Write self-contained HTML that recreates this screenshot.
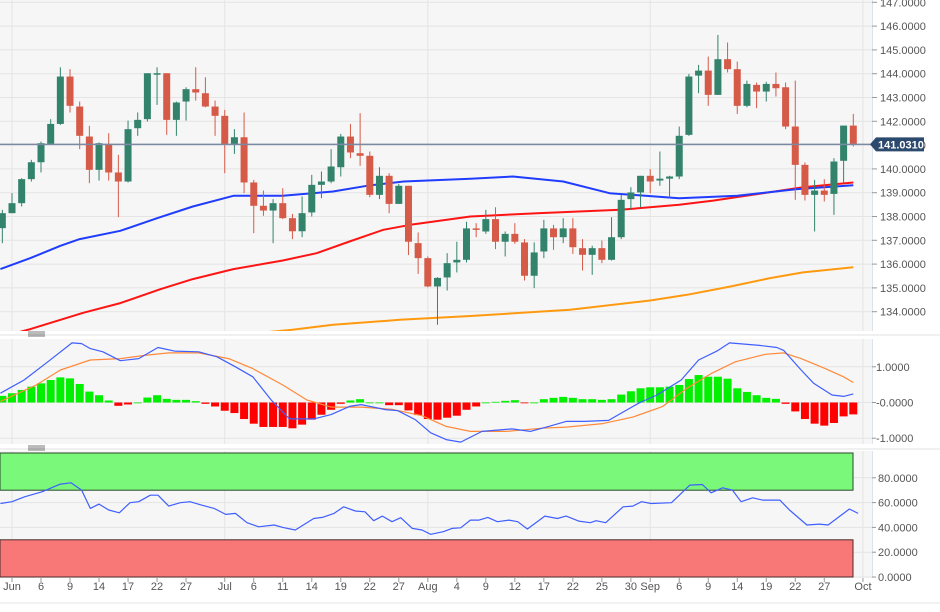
<!DOCTYPE html>
<html><head><meta charset="utf-8">
<style>
html,body{margin:0;padding:0;background:#fff;width:940px;height:612px;overflow:hidden;font-family:"Liberation Sans",sans-serif;}
svg text{font-family:"Liberation Sans",sans-serif;}
</style></head>
<body>
<svg id="chart" width="940" height="612" viewBox="0 0 940 612" xmlns="http://www.w3.org/2000/svg"></svg>
<script>
// ---- data ----
const candleOpen=[137.51,138.14,138.56,139.57,140.28,141.05,141.89,143.88,142.62,141.36,139.96,141.05,139.85,139.47,141.71,142.09,143.99,144.02,142.06,142.83,143.35,143.18,142.62,142.23,141.05,141.33,139.43,138.45,138.25,138.56,137.93,137.38,138.17,139.33,139.47,140.07,141.36,140.66,140.55,138.91,139.71,138.53,139.29,136.88,136.25,135.06,135.44,136.07,136.18,137.50,137.37,137.89,136.94,137.27,136.91,135.51,136.53,137.50,137.13,137.50,136.67,136.39,136.67,136.18,137.13,138.73,139.01,139.71,139.51,139.59,139.68,141.43,143.92,144.13,143.11,144.61,144.19,142.65,143.53,143.25,143.57,143.43,141.78,140.17,138.91,139.09,138.95,140.34,141.82];
const candleHigh=[138.28,138.98,139.61,140.38,141.15,142.09,144.27,144.19,142.83,141.81,141.11,141.50,140.59,142.03,142.37,144.02,144.27,144.02,142.83,143.43,144.27,143.85,142.87,142.48,141.67,142.37,139.54,139.09,138.73,139.19,138.11,138.84,139.75,139.89,140.83,141.47,141.89,142.34,140.73,140.07,139.82,139.37,139.29,137.33,136.32,135.45,136.46,136.94,137.78,137.72,138.28,138.39,137.37,137.72,137.05,136.91,137.86,137.65,137.93,137.93,137.05,136.77,136.99,137.97,138.91,139.23,139.71,139.99,140.73,139.71,141.78,143.99,144.37,144.72,145.63,145.31,144.51,143.71,143.63,143.66,144.05,143.63,143.71,140.27,139.54,139.57,140.45,141.82,142.31];
const candleLow=[136.88,138.14,138.42,139.47,139.85,141.01,141.85,142.37,140.83,139.40,139.51,139.51,137.97,139.43,141.39,141.99,142.69,141.43,141.39,142.03,142.87,142.59,141.39,139.82,140.63,138.98,137.30,138.03,136.88,137.89,137.05,137.13,138.00,138.77,139.40,139.68,140.45,140.13,138.81,138.73,138.14,138.53,136.38,135.59,135.03,133.45,134.89,135.65,136.07,137.13,137.27,136.63,136.32,136.85,135.31,134.99,136.25,136.60,136.88,136.43,135.73,135.55,136.04,136.15,137.05,138.28,138.39,138.98,139.29,138.77,139.57,141.39,143.18,142.65,143.11,144.05,142.31,142.59,142.55,142.83,143.04,141.67,138.70,138.67,137.37,138.63,138.07,139.40,140.94];
const candleClose=[138.14,138.56,139.57,140.28,141.08,141.89,143.88,142.65,141.39,139.96,141.08,139.85,139.47,141.67,142.06,144.02,144.02,142.06,142.79,143.35,143.21,142.62,142.23,141.05,141.33,139.43,138.45,138.25,138.56,137.93,137.38,138.14,139.33,139.47,140.10,141.36,140.69,140.55,138.91,139.71,138.53,139.29,136.94,136.25,135.06,135.42,136.04,136.18,137.50,137.44,137.89,136.94,137.27,136.94,135.51,136.49,137.50,137.13,137.50,136.71,136.39,136.67,136.18,137.13,138.70,139.01,139.71,139.47,139.59,139.68,141.39,143.88,144.13,143.11,144.61,144.19,142.65,143.57,143.25,143.57,143.39,141.78,140.17,138.91,139.09,138.91,140.31,141.82,141.05];
const lastPrice=141.031;
const priceTicks=[134,135,136,137,138,139,140,141,142,143,144,145,146,147];
// moving averages: sampled (day index, value)
const ma50Day=[-1.2,1.9,5,7,11.2,15,18.7,22.9,28,33.2,36.7,40.5,47.4,51.8,57,61.8,69,75,81.2,87];
const ma50Val=[135.79,136.25,136.77,137.05,137.40,137.93,138.42,138.87,138.87,139.05,139.29,139.47,139.59,139.68,139.47,138.98,138.77,138.87,139.15,139.31];
const ma100Day=[-1.5,1.9,7.4,11.2,15.3,18.7,22.9,28,31.5,34.9,38.4,41.2,47.4,54.3,62.9,69,72.5,76.6,81.8,87];
const ma100Val=[132.9,133.27,133.96,134.36,134.94,135.37,135.79,136.15,136.46,136.95,137.44,137.65,138.00,138.14,138.28,138.49,138.67,138.91,139.23,139.43];
const ma200Day=[20,29,33.2,40.1,47.4,57.7,66,69.8,74.3,78.4,81.8,87];
const ma200Val=[132.9,133.24,133.45,133.66,133.82,134.08,134.47,134.71,135.06,135.41,135.65,135.87];
// MACD
const macdHist=[0.185,0.259,0.352,0.444,0.537,0.630,0.704,0.676,0.519,0.306,0.204,0.056,-0.093,-0.056,0,0.139,0.204,0.102,0.074,0.074,0.037,-0.037,-0.111,-0.231,-0.296,-0.463,-0.593,-0.685,-0.685,-0.685,-0.722,-0.620,-0.481,-0.343,-0.204,-0.037,0.056,0.093,0,0,-0.074,-0.074,-0.222,-0.352,-0.463,-0.481,-0.426,-0.370,-0.204,-0.111,0,0.019,0.046,0.065,-0.019,0,0.093,0.130,0.157,0.130,0.093,0.093,0.074,0.093,0.222,0.315,0.398,0.426,0.426,0.444,0.491,0.657,0.769,0.722,0.722,0.667,0.398,0.296,0.204,0.130,0.102,-0.037,-0.250,-0.463,-0.593,-0.648,-0.574,-0.389,-0.333];
const macdDay=[-1.2,1.25,3.7,6.2,7.2,8.1,9.4,11.2,13.1,15.1,16.8,19.3,21.2,23.1,24.9,26.8,28.7,31.2,33,34.9,36.1,38.6,39.9,41.7,43.3,44.9,46.4,48.6,51.7,53.6,55.5,57.3,59.2,61.7,64.8,66.7,69.2,71,72.9,74.2,77.3,79.1,79.8,81.6,82.9,84.8,86,87];
const macdVal=[0.26,0.63,1.14,1.67,1.65,1.51,1.42,1.17,1.23,1.54,1.44,1.42,1.28,1.0,0.72,0.07,-0.46,-0.46,-0.34,-0.11,-0.06,-0.2,-0.23,-0.48,-0.85,-1.04,-1.11,-0.81,-0.74,-0.81,-0.67,-0.53,-0.53,-0.5,-0.02,0.21,0.63,1.19,1.44,1.67,1.6,1.54,1.46,0.91,0.54,0.21,0.17,0.24];
const signalDay=[-1.2,2.5,5,8.1,11.2,13.7,16.2,19.3,22.4,24.9,28,30.5,33,36.1,39.3,42.4,44.9,47.4,51.1,54.8,57.3,61.1,64.2,67.3,69.8,72.3,74.8,77.9,79.8,81.6,84.1,86,87];
const signalVal=[0.03,0.49,0.91,1.19,1.23,1.32,1.39,1.39,1.23,0.95,0.49,0.07,-0.13,-0.13,-0.19,-0.37,-0.67,-0.81,-0.81,-0.72,-0.69,-0.59,-0.41,-0.11,0.4,0.81,1.14,1.35,1.39,1.23,0.95,0.72,0.56];
const macdTicks=[1,0,-1];
const macdTickLabels=["1.0000","-0.0000","-1.0000"];
// RSI
const rsiDay=[-1.2,0,1.3,3.1,5,6.1,7.2,8.1,9,10,11.1,12.2,13.1,14.3,15.1,16.2,17.4,18.4,19.6,20.9,22.1,23.1,24.3,25.5,27.1,28,29.3,31.2,32.1,33.3,34.3,35.5,36.5,37.4,38.3,39.3,40.2,41.4,42.4,43.3,44.6,45.5,46.4,47.4,48.3,49.2,50.2,51.4,52.3,53.3,55.1,56.4,57.3,58.6,59.8,60.4,61.4,63.2,64.2,65.1,66.1,68.2,70.1,71.4,72.3,73.5,74.5,75.4,76.6,77.6,79.4,80.4,82.2,83.5,84.4,86.6,87.5];
const rsiVal=[59.3,60.7,64.7,68.7,74.9,76,70.1,55.3,58.8,54,51.8,59.9,60.7,66,66,57.2,59.9,60.7,58,55.3,50.5,51.3,43.8,40.5,41.9,40,37.9,47.2,48.1,51.3,56.6,53.2,52.6,45.4,49.1,44.6,47.8,39.2,37.9,34.4,36.5,39.2,39.7,45.9,45.9,48.1,44.6,45.9,44.6,38.7,49.1,47.2,49.1,45.1,43.8,45.4,43.8,56.6,57.2,60.7,59.3,59.9,74.1,74.6,67.9,71.9,70.1,60.7,63.9,62,62,54,41.9,42.7,41.9,54.8,51.3];
const rsiTicks=[80,60,40,20,0];
// x-axis
const dateLabels=["Jun","6","9","14","17","22","27","Jul","6","11","14","19","22","27","Aug","4","9","12","17","22","25","30","Sep","6","9","14","19","22","27","Oct"];
const dateDays=[0,3,6,9,12,15,18,22,25,28,31,34,37,40,43,46,49,52,55,58,61,64,66,69,72,75,78,81,84,88];
const monthDays=[0,22,43,66,88];

// ---- layout & scales ----
const NS="http://www.w3.org/2000/svg";
const svg=document.getElementById('chart');
const PR=872; // plot right
const xDay=d=>12+9.67*d;
const yP=p=>311.7-(p-134)*23.8;
const yM=v=>402.5-v*35.7;
const yR=v=>577-v*1.24;
function el(tag,attrs,parent){const e=document.createElementNS(NS,tag);for(const k in attrs)e.setAttribute(k,attrs[k]);(parent||svg).appendChild(e);return e;}

// backgrounds
let b1=el('rect',{x:0,y:0,width:PR,height:331,fill:'#f6f6f6'});


let b2=el('rect',{x:0,y:339,width:PR,height:105,fill:'#f6f6f6'});


let b3=el('rect',{x:0,y:451,width:PR,height:127,fill:'#f6f6f6'});



// grid
const g=el('g',{stroke:'#e4e4e4','stroke-width':1});


priceTicks.forEach(p=>{const y=yP(p);if(y>0&&y<331)el('line',{x1:0,x2:PR,y1:y,y2:y},g);});
macdTicks.forEach(v=>el('line',{x1:0,x2:PR,y1:yM(v),y2:yM(v)},g));
rsiTicks.forEach(v=>el('line',{x1:0,x2:PR,y1:yR(v),y2:yR(v)},g));
monthDays.forEach(d=>{const x=xDay(d);el('line',{x1:x,x2:x,y1:0,y2:331},g);el('line',{x1:x,x2:x,y1:339,y2:444},g);el('line',{x1:x,x2:x,y1:451,y2:578},g);});

// RSI bands
let gb=el('rect',{x:0,y:yR(100),width:853,height:yR(70)-yR(100),fill:'#79f879',stroke:'#2a4a2a','stroke-width':1});


let rb=el('rect',{x:0,y:yR(30),width:853,height:yR(0)-yR(30),fill:'#f87878',stroke:'#4a2a2a','stroke-width':1});



// clip for price
const defs=el('defs',{});
const cp=el('clipPath',{id:'cp'},defs);el('rect',{x:0,y:0,width:PR,height:331},cp);

function line(days,vals,ys,color,w,name,clip){
  const pts=days.map((d,i)=>xDay(d).toFixed(1)+','+ys(vals[i]).toFixed(1)).join(' ');
  const l=el('polyline',{points:pts,fill:'none',stroke:color,'stroke-width':w,'stroke-linejoin':'round'});
  if(clip)l.setAttribute('clip-path','url(#cp)');
  
  
  return l;
}
line(ma200Day,ma200Val,yP,'#ff9a10',2,'ma200-line',true);
line(ma100Day,ma100Val,yP,'#ff1414',2,'ma100-line',true);
line(ma50Day,ma50Val,yP,'#1f3cff',2,'ma50-line',true);

// candles
const cg=el('g',{'clip-path':'url(#cp)'});


candleOpen.forEach((o,i)=>{
  const c=candleClose[i],h=candleHigh[i],l=candleLow[i];
  const x=xDay(i-1),up=c>=o,col=up?'#33836c':'#d65a48';
  const wk=el('line',{x1:x,x2:x,y1:yP(h),y2:yP(l),stroke:col,'stroke-width':1},cg);
  
  
  const top=yP(Math.max(o,c)),bot=yP(Math.min(o,c));
  const r=el('rect',{x:x-3.5,y:top,width:7,height:Math.max(1.5,bot-top),fill:col},cg);
  
  
});

// last price line
let lp=el('line',{x1:0,x2:PR,y1:yP(lastPrice),y2:yP(lastPrice),stroke:'#7a8aa2','stroke-width':1.5});



// MACD histogram
macdHist.forEach((v,i)=>{
  const x=xDay(i-1),y0=yM(0),y1=yM(v);
  const r=el('rect',{x:x-4,y:Math.min(y0,y1),width:8,height:Math.max(0.8,Math.abs(y1-y0)),fill:v>=0?'#00f000':'#ff0000'});
  
  
});
line(signalDay,signalVal,yM,'#ff8a3a',1.2,'macd-signal-line',false);
line(macdDay,macdVal,yM,'#3f5fff',1.2,'macd-line',false);
line(rsiDay,rsiVal,yR,'#3f5fff',1.2,'rsi-line',false);

// axes right border
[[0,331],[339,444],[451,578]].forEach(([a,bb])=>{el('line',{x1:PR+0.5,x2:PR+0.5,y1:a,y2:bb,stroke:'#dde3ea','stroke-width':1});});
// panel separators
[333,447].forEach(y=>{
  let s=el('line',{x1:0,x2:940,y1:y+2,y2:y+2,stroke:'#e2e2e2','stroke-width':1});
  
  
  const h=el('g',{stroke:'#777','stroke-width':1});
  
  
  [0,2,4].forEach(o=>el('line',{x1:28,x2:45,y1:y-1+o,y2:y-1+o},h));
});

// tick labels
function txt(s,x,y,name,extra){const t=el('text',Object.assign({x:x,y:y,'font-size':11,fill:'#555'},extra||{}));t.textContent=s;
  
  return t;}
priceTicks.forEach(p=>{const y=yP(p);if(y>-2&&y<331){el('line',{x1:PR,x2:PR+5,y1:y,y2:y,stroke:'#999'});txt(p.toFixed(4),880,y+4,'price-tick-label');}});
macdTicks.forEach((v,i)=>{el('line',{x1:PR,x2:PR+4,y1:yM(v),y2:yM(v),stroke:'#999'});txt(macdTickLabels[i],876,yM(v)+4,'macd-tick-label');});
rsiTicks.forEach(v=>{el('line',{x1:PR,x2:PR+4,y1:yR(v),y2:yR(v),stroke:'#999'});txt(v.toFixed(4),878,yR(v)+4,'rsi-tick-label');});
dateLabels.forEach((s,i)=>{const x=xDay(dateDays[i]);el('line',{x1:x,x2:x,y1:578,y2:582,stroke:'#999'});txt(s,x,590,'date-tick-label',{'text-anchor':'middle'});});
el('line',{x1:0,x2:940,y1:603,y2:603,stroke:'#e6e6e6'});

// last price tag
const ly=yP(lastPrice);
let tag=el('path',{d:`M${PR-2},${ly} L${PR+4},${ly-7} L924,${ly-7} L924,${ly+7} L${PR+4},${ly+7} Z`,fill:'#2c4a6e'});


txt(lastPrice.toFixed(4),878,ly+4,'last-price-label',{fill:'#fff','font-weight':'bold','font-size':11});
</script>
</body></html>
